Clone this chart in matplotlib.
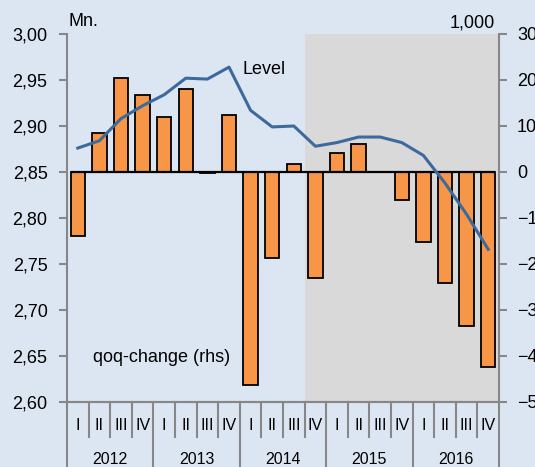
import matplotlib
matplotlib.use("Agg")
import matplotlib.pyplot as plt
from matplotlib.lines import Line2D
from matplotlib.ticker import FuncFormatter
import numpy as np

plt.rcParams['font.family'] = ['Liberation Sans', 'DejaVu Sans']

years = ["2012", "2013", "2014", "2015", "2016"]
quarters = ["I", "II", "III", "IV"]
qoq_change = [-14.0, 8.4, 20.4, 16.7, 12.0, 18.0, -0.3, 12.4,
              -46.3, -18.6, 1.7, -23.0, 4.2, 6.0, 0.0, -6.1,
              -15.2, -24.2, -33.5, -42.5]
level = [2.876, 2.884, 2.908, 2.922, 2.934, 2.952, 2.951, 2.964,
         2.917, 2.899, 2.900, 2.878, 2.882, 2.888, 2.888, 2.882,
         2.868, 2.838, 2.804, 2.766]
left_ticks = [2.60, 2.65, 2.70, 2.75, 2.80, 2.85, 2.90, 2.95, 3.00]
right_ticks = [-50, -40, -30, -20, -10, 0, 10, 20, 30]
shade_start = 11  # 2014 Q4 (index)

BG = "#dce6f2"
GRAY = "#878787"
fig = plt.figure(figsize=(5.35, 4.67), dpi=100, facecolor=BG)
W, H = 535, 467
L, R, T, B = 67, 499, 34, 402
ax = fig.add_axes([L / W, 1 - B / H, (R - L) / W, (B - T) / H])
ax.set_facecolor(BG)
ax2 = ax.twinx()

n = len(qoq_change)
x = np.arange(n)
ax.set_xlim(-0.5, n - 0.5)

# shaded period
ax.axvspan(shade_start - 0.5, n - 0.5, color="#d9d9d9", lw=0, zorder=0)

# bars on right axis
ax2.bar(x, qoq_change, width=0.67, color="#f79646", edgecolor="black", linewidth=1.3, zorder=2)
ax2.hlines(0, -0.335, n - 1 + 0.335, color="black", lw=1.6, zorder=3)
ax2.set_ylim(-50, 30)
ax2.set_yticks(right_ticks)

# line on left axis (drawn above bars)
ax.set_ylim(2.60, 3.00)
ax.set_yticks(left_ticks)
ax.yaxis.set_major_formatter(FuncFormatter(lambda v, p: f"{v:.2f}".replace(".", ",")))
ax.set_zorder(ax2.get_zorder() + 1)
ax.patch.set_visible(False)
ax2.patch.set_visible(True)
ax2.patch.set_facecolor(BG)
# move shading to ax2 background so it stays behind bars
ax.patches[0].remove() if ax.patches else None
ax2.axvspan(shade_start - 0.5, n - 0.5, color="#d9d9d9", lw=0, zorder=0)
ax.plot(x, level, color="#3d6a9e", lw=2.2, zorder=4, solid_joinstyle="round")

for a in (ax, ax2):
    for s in a.spines.values():
        s.set_color(GRAY)
        s.set_linewidth(1.5)
    a.spines["top"].set_visible(False)
    a.tick_params(axis="y", colors=GRAY, length=6, width=1.5, labelsize=13, labelcolor="black")
ax.spines["right"].set_visible(False)
ax2.spines["left"].set_visible(False)
ax.tick_params(axis="y", pad=8)
ax2.tick_params(axis="y", pad=7)
ax.set_xticks([])
ax2.set_xticks([])

# category axis labels
trans = ax.get_xaxis_transform()
y_axis = 0.0
def fy(pix):
    return (B - pix) / (B - T)
for i in range(n + 1):
    xb = i - 0.5
    is_year = (i % 4 == 0)
    ybot = fy(H) if is_year else fy(437)
    ax.add_line(Line2D([xb, xb], [0, ybot], transform=trans, color=GRAY, lw=1.5, clip_on=False))
for i in range(n):
    ax.text(i, fy(425), quarters[i % 4], transform=trans, ha="center", va="center", fontsize=11.5)
for j, yr in enumerate(years):
    ax.text(j * 4 + 1.5, fy(459), yr, transform=trans, ha="center", va="center", fontsize=11.5)

fig.text(68 / W, 1 - 22 / H, "Mn.", ha="left", va="center", fontsize=13)
fig.text(495 / W, 1 - 23 / H, "1,000", ha="right", va="center", fontsize=13)
fig.text(243 / W, 1 - 69 / H, "Level", ha="left", va="center", fontsize=13)
fig.text(93 / W, 1 - 358 / H, "qoq-change (rhs)", ha="left", va="center", fontsize=13)

fig.savefig("out.png", dpi=100, facecolor=BG)
